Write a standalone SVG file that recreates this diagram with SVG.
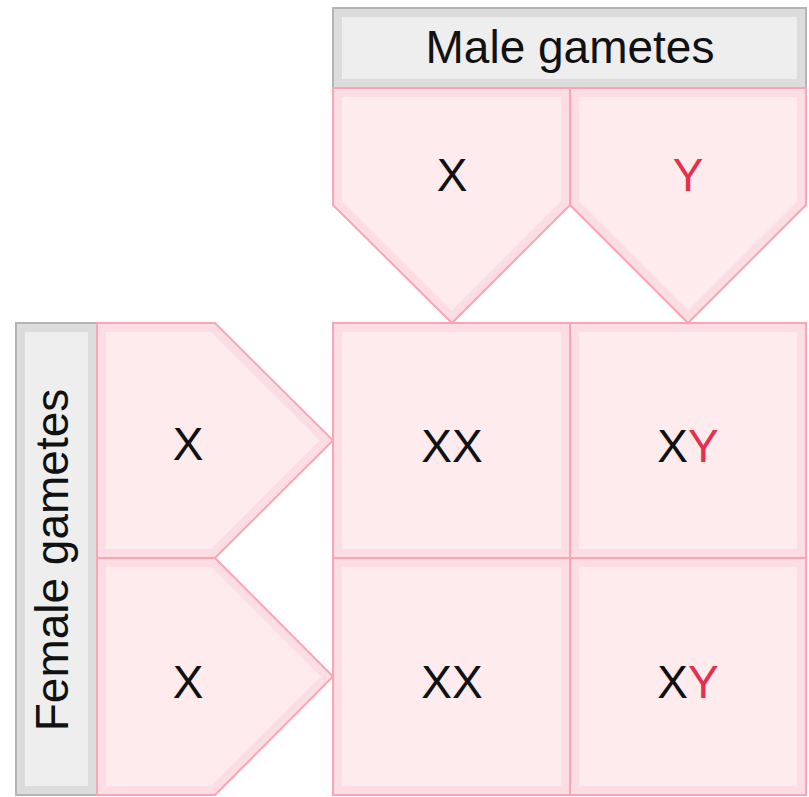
<svg xmlns="http://www.w3.org/2000/svg" width="809" height="797" viewBox="0 0 809 797">
<style>
.po{fill:#fddde4;stroke:#f9a5b4;stroke-width:2}
.pi{fill:#fdebee;stroke:none}
.go{fill:#dcdcdc;stroke:#b4b4b4;stroke-width:2}
.gi{fill:#eeeeee;stroke:none}
text{font-family:"Liberation Sans",Arial,Helvetica,sans-serif;font-size:46px;fill:#111;text-anchor:middle}
.r{fill:#e62e4d}
</style>
<rect width="809" height="797" fill="#ffffff"/>
<g id="male-header">
<rect class="go" x="333" y="8" width="473" height="80"/>
<rect class="gi" x="342" y="17" width="455" height="62"/>
<text x="570" y="63">Male gametes</text>
</g>
<g id="female-header">
<rect class="go" x="16" y="323" width="81" height="472"/>
<rect class="gi" x="25" y="332" width="63" height="454"/>
<text transform="translate(68,560) rotate(-90)">Female gametes</text>
</g>
<g id="cell-xx-1">
<rect class="po" x="333" y="323" width="237" height="235"/>
<rect class="pi" x="342" y="332" width="219" height="217"/>
<text x="452" y="462">XX</text>
</g>
<g id="cell-xy-1">
<rect class="po" x="570" y="323" width="236" height="235"/>
<rect class="pi" x="579" y="332" width="218" height="217"/>
<text x="688" y="462">X<tspan class="r">Y</tspan></text>
</g>
<g id="cell-xx-2">
<rect class="po" x="333" y="558" width="237" height="237"/>
<rect class="pi" x="342" y="567" width="219" height="219"/>
<text x="452" y="698">XX</text>
</g>
<g id="cell-xy-2">
<rect class="po" x="570" y="558" width="236" height="237"/>
<rect class="pi" x="579" y="567" width="218" height="219"/>
<text x="688" y="698">X<tspan class="r">Y</tspan></text>
</g>
<g id="male-x">
<polygon class="po" points="333,88 570,88 570,205 452,323 333,205"/>
<polygon class="pi" points="342,97 561,97 561,201.3 451.5,310.8 342,201.3"/>
<text x="452" y="191">X</text>
</g>
<g id="male-y">
<polygon class="po" points="570,88 806,88 806,205 688,323 570,205"/>
<polygon class="pi" points="579,97 797,97 797,201.3 688,310.3 579,201.3"/>
<text x="688" y="191" class="r">Y</text>
</g>
<g id="female-x-1">
<polygon class="po" points="97,323 215,323 333,440.5 215,558 97,558"/>
<polygon class="pi" points="106,332 211.3,332 319.8,440.5 211.3,549 106,549"/>
<text x="188" y="460">X</text>
</g>
<g id="female-x-2">
<polygon class="po" points="97,558 215,558 333,676.5 215,795 97,795"/>
<polygon class="pi" points="106,567 211.3,567 320.8,676.5 211.3,786 106,786"/>
<text x="188" y="698">X</text>
</g>
</svg>
